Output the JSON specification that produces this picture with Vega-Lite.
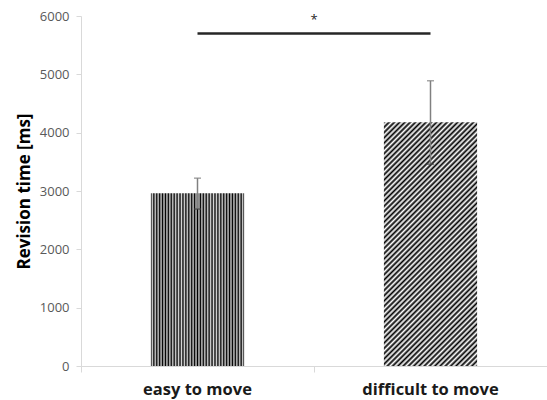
{
  "$schema": "https://vega.github.io/schema/vega-lite/v6.json",
  "width": 466,
  "height": 350,
  "autosize": {"type": "none"},
  "padding": {"left": 81, "top": 16, "right": 0, "bottom": 34},
  "background": "white",
  "config": {"view": {"stroke": null}, "font": "Open Sans"},
  "datasets": {
    "bars": [
      {"condition": "easy to move", "mean": 2960, "lo": 2690, "hi": 3220},
      {"condition": "difficult to move", "mean": 4180, "lo": 3460, "hi": 4890}
    ],
    "sig": [
      {"from": "easy to move", "to": "difficult to move", "y": 5700, "ystar": 5930, "label": "*"}
    ]
  },
  "encoding": {
    "x": {
      "field": "condition", "type": "nominal", "sort": ["easy to move", "difficult to move"],
      "scale": {"domain": ["easy to move", "difficult to move"], "paddingInner": 0, "paddingOuter": 0},
      "axis": {
        "title": null, "labelAngle": 0, "bandPosition": 0,
        "domainColor": "#d9d9d9", "tickColor": "#d9d9d9", "tickSize": 6,
        "labelFontSize": 16.5, "labelFontWeight": "bold", "labelColor": "#1a1a1a",
        "labelPadding": 9, "labelFont": "Open Sans"
      }
    },
    "y": {
      "field": "mean", "type": "quantitative",
      "scale": {"domain": [0, 6000], "nice": false},
      "axis": {
        "title": "Revision time [ms]", "values": [0, 1000, 2000, 3000, 4000, 5000, 6000], "format": "d",
        "grid": false, "domainColor": "#d9d9d9", "tickColor": "#d9d9d9", "tickSize": 5,
        "labelFontSize": 13, "labelColor": "#595959", "labelPadding": 7, "labelFont": "Open Sans",
        "titleFontSize": 17, "titleFontWeight": "bold", "titleColor": "#000", "titlePadding": 6,
        "titleFont": "Open Sans"
      }
    }
  },
  "layer": [
    {
      "data": {"name": "bars"},
      "transform": [{"filter": "datum.condition === 'easy to move'"}],
      "mark": {
        "type": "bar",
        "width": {"band": 0.4},
        "color": {
          "gradient": "linear", "x1": 0, "y1": 0, "x2": 1, "y2": 0,
          "stops": [
            {"offset": 0, "color": "#000"}, {"offset": 0.0156, "color": "#d8d8d8"},
            {"offset": 0.0313, "color": "#000"}, {"offset": 0.0469, "color": "#d8d8d8"},
            {"offset": 0.0625, "color": "#000"}, {"offset": 0.0781, "color": "#d8d8d8"},
            {"offset": 0.0938, "color": "#000"}, {"offset": 0.1094, "color": "#d8d8d8"},
            {"offset": 0.125, "color": "#000"}, {"offset": 0.1406, "color": "#d8d8d8"},
            {"offset": 0.1563, "color": "#000"}, {"offset": 0.1719, "color": "#d8d8d8"},
            {"offset": 0.1875, "color": "#000"}, {"offset": 0.2031, "color": "#d8d8d8"},
            {"offset": 0.2188, "color": "#000"}, {"offset": 0.2344, "color": "#d8d8d8"},
            {"offset": 0.25, "color": "#000"}, {"offset": 0.2656, "color": "#d8d8d8"},
            {"offset": 0.2813, "color": "#000"}, {"offset": 0.2969, "color": "#d8d8d8"},
            {"offset": 0.3125, "color": "#000"}, {"offset": 0.3281, "color": "#d8d8d8"},
            {"offset": 0.3438, "color": "#000"}, {"offset": 0.3594, "color": "#d8d8d8"},
            {"offset": 0.375, "color": "#000"}, {"offset": 0.3906, "color": "#d8d8d8"},
            {"offset": 0.4063, "color": "#000"}, {"offset": 0.4219, "color": "#d8d8d8"},
            {"offset": 0.4375, "color": "#000"}, {"offset": 0.4531, "color": "#d8d8d8"},
            {"offset": 0.4688, "color": "#000"}, {"offset": 0.4844, "color": "#d8d8d8"},
            {"offset": 0.5, "color": "#000"}, {"offset": 0.5156, "color": "#d8d8d8"},
            {"offset": 0.5313, "color": "#000"}, {"offset": 0.5469, "color": "#d8d8d8"},
            {"offset": 0.5625, "color": "#000"}, {"offset": 0.5781, "color": "#d8d8d8"},
            {"offset": 0.5938, "color": "#000"}, {"offset": 0.6094, "color": "#d8d8d8"},
            {"offset": 0.625, "color": "#000"}, {"offset": 0.6406, "color": "#d8d8d8"},
            {"offset": 0.6563, "color": "#000"}, {"offset": 0.6719, "color": "#d8d8d8"},
            {"offset": 0.6875, "color": "#000"}, {"offset": 0.7031, "color": "#d8d8d8"},
            {"offset": 0.7188, "color": "#000"}, {"offset": 0.7344, "color": "#d8d8d8"},
            {"offset": 0.75, "color": "#000"}, {"offset": 0.7656, "color": "#d8d8d8"},
            {"offset": 0.7813, "color": "#000"}, {"offset": 0.7969, "color": "#d8d8d8"},
            {"offset": 0.8125, "color": "#000"}, {"offset": 0.8281, "color": "#d8d8d8"},
            {"offset": 0.8438, "color": "#000"}, {"offset": 0.8594, "color": "#d8d8d8"},
            {"offset": 0.875, "color": "#000"}, {"offset": 0.8906, "color": "#d8d8d8"},
            {"offset": 0.9063, "color": "#000"}, {"offset": 0.9219, "color": "#d8d8d8"},
            {"offset": 0.9375, "color": "#000"}, {"offset": 0.9531, "color": "#d8d8d8"},
            {"offset": 0.9688, "color": "#000"}, {"offset": 0.9844, "color": "#d8d8d8"},
            {"offset": 1, "color": "#000"}
          ]
        }
      }
    },
    {
      "data": {"name": "bars"},
      "transform": [{"filter": "datum.condition === 'difficult to move'"}],
      "mark": {
        "type": "bar",
        "width": {"band": 0.4},
        "color": {
          "gradient": "linear", "x1": 0, "y1": 0, "x2": 0.46, "y2": 1.206,
          "stops": [
            {"offset": 0, "color": "#000"}, {"offset": 0.0078, "color": "#fff"},
            {"offset": 0.0156, "color": "#000"}, {"offset": 0.0234, "color": "#fff"},
            {"offset": 0.0313, "color": "#000"}, {"offset": 0.0391, "color": "#fff"},
            {"offset": 0.0469, "color": "#000"}, {"offset": 0.0547, "color": "#fff"},
            {"offset": 0.0625, "color": "#000"}, {"offset": 0.0703, "color": "#fff"},
            {"offset": 0.0781, "color": "#000"}, {"offset": 0.0859, "color": "#fff"},
            {"offset": 0.0938, "color": "#000"}, {"offset": 0.1016, "color": "#fff"},
            {"offset": 0.1094, "color": "#000"}, {"offset": 0.1172, "color": "#fff"},
            {"offset": 0.125, "color": "#000"}, {"offset": 0.1328, "color": "#fff"},
            {"offset": 0.1406, "color": "#000"}, {"offset": 0.1484, "color": "#fff"},
            {"offset": 0.1563, "color": "#000"}, {"offset": 0.1641, "color": "#fff"},
            {"offset": 0.1719, "color": "#000"}, {"offset": 0.1797, "color": "#fff"},
            {"offset": 0.1875, "color": "#000"}, {"offset": 0.1953, "color": "#fff"},
            {"offset": 0.2031, "color": "#000"}, {"offset": 0.2109, "color": "#fff"},
            {"offset": 0.2188, "color": "#000"}, {"offset": 0.2266, "color": "#fff"},
            {"offset": 0.2344, "color": "#000"}, {"offset": 0.2422, "color": "#fff"},
            {"offset": 0.25, "color": "#000"}, {"offset": 0.2578, "color": "#fff"},
            {"offset": 0.2656, "color": "#000"}, {"offset": 0.2734, "color": "#fff"},
            {"offset": 0.2813, "color": "#000"}, {"offset": 0.2891, "color": "#fff"},
            {"offset": 0.2969, "color": "#000"}, {"offset": 0.3047, "color": "#fff"},
            {"offset": 0.3125, "color": "#000"}, {"offset": 0.3203, "color": "#fff"},
            {"offset": 0.3281, "color": "#000"}, {"offset": 0.3359, "color": "#fff"},
            {"offset": 0.3438, "color": "#000"}, {"offset": 0.3516, "color": "#fff"},
            {"offset": 0.3594, "color": "#000"}, {"offset": 0.3672, "color": "#fff"},
            {"offset": 0.375, "color": "#000"}, {"offset": 0.3828, "color": "#fff"},
            {"offset": 0.3906, "color": "#000"}, {"offset": 0.3984, "color": "#fff"},
            {"offset": 0.4063, "color": "#000"}, {"offset": 0.4141, "color": "#fff"},
            {"offset": 0.4219, "color": "#000"}, {"offset": 0.4297, "color": "#fff"},
            {"offset": 0.4375, "color": "#000"}, {"offset": 0.4453, "color": "#fff"},
            {"offset": 0.4531, "color": "#000"}, {"offset": 0.4609, "color": "#fff"},
            {"offset": 0.4688, "color": "#000"}, {"offset": 0.4766, "color": "#fff"},
            {"offset": 0.4844, "color": "#000"}, {"offset": 0.4922, "color": "#fff"},
            {"offset": 0.5, "color": "#000"}, {"offset": 0.5078, "color": "#fff"},
            {"offset": 0.5156, "color": "#000"}, {"offset": 0.5234, "color": "#fff"},
            {"offset": 0.5313, "color": "#000"}, {"offset": 0.5391, "color": "#fff"},
            {"offset": 0.5469, "color": "#000"}, {"offset": 0.5547, "color": "#fff"},
            {"offset": 0.5625, "color": "#000"}, {"offset": 0.5703, "color": "#fff"},
            {"offset": 0.5781, "color": "#000"}, {"offset": 0.5859, "color": "#fff"},
            {"offset": 0.5938, "color": "#000"}, {"offset": 0.6016, "color": "#fff"},
            {"offset": 0.6094, "color": "#000"}, {"offset": 0.6172, "color": "#fff"},
            {"offset": 0.625, "color": "#000"}, {"offset": 0.6328, "color": "#fff"},
            {"offset": 0.6406, "color": "#000"}, {"offset": 0.6484, "color": "#fff"},
            {"offset": 0.6563, "color": "#000"}, {"offset": 0.6641, "color": "#fff"},
            {"offset": 0.6719, "color": "#000"}, {"offset": 0.6797, "color": "#fff"},
            {"offset": 0.6875, "color": "#000"}, {"offset": 0.6953, "color": "#fff"},
            {"offset": 0.7031, "color": "#000"}, {"offset": 0.7109, "color": "#fff"},
            {"offset": 0.7188, "color": "#000"}, {"offset": 0.7266, "color": "#fff"},
            {"offset": 0.7344, "color": "#000"}, {"offset": 0.7422, "color": "#fff"},
            {"offset": 0.75, "color": "#000"}, {"offset": 0.7578, "color": "#fff"},
            {"offset": 0.7656, "color": "#000"}, {"offset": 0.7734, "color": "#fff"},
            {"offset": 0.7813, "color": "#000"}, {"offset": 0.7891, "color": "#fff"},
            {"offset": 0.7969, "color": "#000"}, {"offset": 0.8047, "color": "#fff"},
            {"offset": 0.8125, "color": "#000"}, {"offset": 0.8203, "color": "#fff"},
            {"offset": 0.8281, "color": "#000"}, {"offset": 0.8359, "color": "#fff"},
            {"offset": 0.8438, "color": "#000"}, {"offset": 0.8516, "color": "#fff"},
            {"offset": 0.8594, "color": "#000"}, {"offset": 0.8672, "color": "#fff"},
            {"offset": 0.875, "color": "#000"}, {"offset": 0.8828, "color": "#fff"},
            {"offset": 0.8906, "color": "#000"}, {"offset": 0.8984, "color": "#fff"},
            {"offset": 0.9063, "color": "#000"}, {"offset": 0.9141, "color": "#fff"},
            {"offset": 0.9219, "color": "#000"}, {"offset": 0.9297, "color": "#fff"},
            {"offset": 0.9375, "color": "#000"}, {"offset": 0.9453, "color": "#fff"},
            {"offset": 0.9531, "color": "#000"}, {"offset": 0.9609, "color": "#fff"},
            {"offset": 0.9688, "color": "#000"}, {"offset": 0.9766, "color": "#fff"},
            {"offset": 0.9844, "color": "#000"}, {"offset": 0.9922, "color": "#fff"},
            {"offset": 1, "color": "#000"}
          ]
        }
      }
    },
    {
      "data": {"name": "bars"},
      "mark": {"type": "rule", "color": "#808080", "strokeWidth": 1.5},
      "encoding": {
        "y": {"field": "lo", "type": "quantitative"},
        "y2": {"field": "hi"}
      }
    },
    {
      "data": {"name": "bars"},
      "mark": {"type": "tick", "color": "#808080", "size": 7, "thickness": 1.5, "orient": "horizontal"},
      "encoding": {
        "y": {"field": "hi", "type": "quantitative"}
      }
    },
    {
      "data": {"name": "bars"},
      "mark": {"type": "tick", "color": "#404040", "size": 7, "thickness": 1.5, "orient": "horizontal"},
      "encoding": {
        "y": {"field": "lo", "type": "quantitative"}
      }
    },
    {
      "data": {"name": "sig"},
      "mark": {"type": "rule", "color": "#262626", "strokeWidth": 2.5},
      "encoding": {
        "x": {"field": "from", "type": "nominal"},
        "x2": {"field": "to"},
        "y": {"field": "y", "type": "quantitative"}
      }
    },
    {
      "data": {"name": "sig"},
      "mark": {"type": "text", "color": "#262626", "fontSize": 13, "font": "Open Sans", "baseline": "middle", "align": "center"},
      "encoding": {
        "x": {"field": "to", "type": "nominal", "bandPosition": 0},
        "y": {"field": "ystar", "type": "quantitative"},
        "text": {"field": "label"}
      }
    }
  ]
}
